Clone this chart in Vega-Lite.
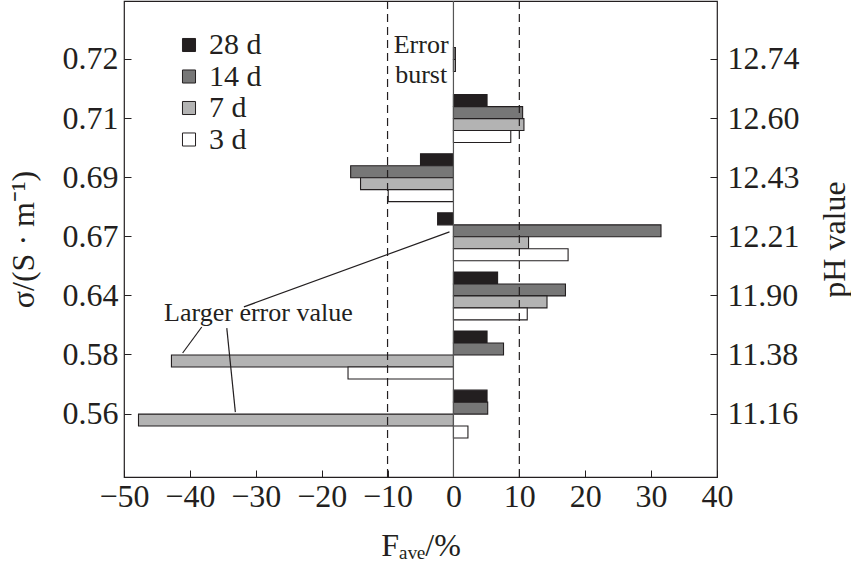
{
  "$schema": "https://vega.github.io/schema/vega-lite/v6.json",
  "autosize": {"type": "none"},
  "width": 593,
  "height": 476,
  "padding": {"left": 124, "top": 1, "right": 134, "bottom": 84},
  "background": "white",
  "config": {
    "view": {"stroke": "#231f20", "strokeWidth": 1.2},
    "font": "Liberation Serif",
    "axis": {
      "domain": false,
      "grid": false,
      "tickColor": "#231f20",
      "tickSize": -7,
      "labelOverlap": false,
      "labelFlush": false,
      "labelFont": "Liberation Serif",
      "labelFontSize": 32,
      "labelColor": "#231f20",
      "titleFont": "Liberation Serif",
      "titleFontSize": 32,
      "titleFontWeight": "normal",
      "titleColor": "#231f20"
    }
  },
  "datasets": {
    "bars": [
      {"sigma": "0.72", "ph": "12.74", "age": "14 d", "F": 0.3},
      {"sigma": "0.72", "ph": "12.74", "age": "7 d", "F": 0.3},
      {"sigma": "0.71", "ph": "12.60", "age": "28 d", "F": 5.1},
      {"sigma": "0.71", "ph": "12.60", "age": "14 d", "F": 10.5},
      {"sigma": "0.71", "ph": "12.60", "age": "7 d", "F": 10.7},
      {"sigma": "0.71", "ph": "12.60", "age": "3 d", "F": 8.7},
      {"sigma": "0.69", "ph": "12.43", "age": "28 d", "F": -5.0},
      {"sigma": "0.69", "ph": "12.43", "age": "14 d", "F": -15.6},
      {"sigma": "0.69", "ph": "12.43", "age": "7 d", "F": -14.1},
      {"sigma": "0.69", "ph": "12.43", "age": "3 d", "F": -9.9},
      {"sigma": "0.67", "ph": "12.21", "age": "28 d", "F": -2.4},
      {"sigma": "0.67", "ph": "12.21", "age": "14 d", "F": 31.5},
      {"sigma": "0.67", "ph": "12.21", "age": "7 d", "F": 11.4},
      {"sigma": "0.67", "ph": "12.21", "age": "3 d", "F": 17.4},
      {"sigma": "0.64", "ph": "11.90", "age": "28 d", "F": 6.7},
      {"sigma": "0.64", "ph": "11.90", "age": "14 d", "F": 17.0},
      {"sigma": "0.64", "ph": "11.90", "age": "7 d", "F": 14.2},
      {"sigma": "0.64", "ph": "11.90", "age": "3 d", "F": 11.2},
      {"sigma": "0.58", "ph": "11.38", "age": "28 d", "F": 5.1},
      {"sigma": "0.58", "ph": "11.38", "age": "14 d", "F": 7.6},
      {"sigma": "0.58", "ph": "11.38", "age": "7 d", "F": -42.8},
      {"sigma": "0.58", "ph": "11.38", "age": "3 d", "F": -16.0},
      {"sigma": "0.56", "ph": "11.16", "age": "28 d", "F": 5.1},
      {"sigma": "0.56", "ph": "11.16", "age": "14 d", "F": 5.2},
      {"sigma": "0.56", "ph": "11.16", "age": "7 d", "F": -47.8},
      {"sigma": "0.56", "ph": "11.16", "age": "3 d", "F": 2.2}
    ],
    "refs": [
      {"F": -10, "kind": "dash"},
      {"F": 10, "kind": "dash"},
      {"F": 0, "kind": "zero"}
    ],
    "pointers": [
      {"x": -31.8, "y": 4.19, "x2": -0.6, "y2": 2.92},
      {"x": -41.1, "y": 4.97, "x2": -38.2, "y2": 4.53},
      {"x": -33.1, "y": 5.97, "x2": -34.4, "y2": 4.55}
    ],
    "notes": [
      {"x": -29.6, "y": 4.29, "text": "Larger error value"},
      {"x": -4.9, "y": -0.24, "text": "Error"},
      {"x": -4.9, "y": 0.27, "text": "burst"}
    ]
  },
  "layer": [
    {
      "data": {"name": "bars"},
      "mark": {"type": "bar", "stroke": "#231f20", "strokeWidth": 1.1},
      "encoding": {
        "y": {
          "field": "sigma",
          "type": "nominal",
          "sort": "descending",
          "scale": {"paddingInner": 0.19, "paddingOuter": 0.622, "align": 0.47},
          "axis": {"orient": "left", "title": "σ/(S · m⁻¹)", "labelPadding": 13, "titlePadding": 22}
        },
        "yOffset": {
          "field": "age",
          "type": "nominal",
          "sort": ["28 d", "14 d", "7 d", "3 d"],
          "scale": {"paddingInner": 0, "paddingOuter": 0}
        },
        "x": {
          "field": "F",
          "type": "quantitative",
          "scale": {"domain": [-50, 40], "nice": false},
          "axis": {"values": [-50, -40, -30, -20, -10, 0, 10, 20, 30, 40], "title": "Fₐᵥₑ/%", "labelPadding": 11, "titlePadding": 18}
        },
        "color": {
          "field": "age",
          "type": "nominal",
          "scale": {"domain": ["28 d", "14 d", "7 d", "3 d"], "range": ["#231f20", "#777777", "#b3b3b3", "#ffffff"]},
          "legend": {
            "title": null,
            "orient": "none",
            "legendX": 50,
            "legendY": 29,
            "padding": 0,
            "rowPadding": 1.5,
            "symbolType": "square",
            "symbolSize": 170,
            "symbolStrokeColor": "#231f20",
            "symbolStrokeWidth": 1,
            "symbolOpacity": 1,
            "labelFont": "Liberation Serif",
            "labelFontSize": 30,
            "labelColor": "#231f20",
            "labelOffset": 5
          }
        }
      }
    },
    {
      "data": {"name": "bars"},
      "mark": {"type": "tick", "opacity": 0},
      "encoding": {
        "y": {
          "field": "ph",
          "type": "nominal",
          "sort": "descending",
          "scale": {"paddingInner": 0.19, "paddingOuter": 0.622, "align": 0.47},
          "axis": {"orient": "right", "title": "pH value", "titleAngle": 270, "titleBaseline": "top", "labelPadding": 17, "titlePadding": 20}
        },
        "x": {"field": "F", "type": "quantitative"}
      }
    },
    {
      "data": {"name": "refs"},
      "transform": [{"filter": "datum.kind == 'dash'"}],
      "mark": {"type": "rule", "color": "#231f20", "strokeWidth": 1.2, "strokeDash": [8, 5]},
      "encoding": {"x": {"field": "F", "type": "quantitative"}}
    },
    {
      "data": {"name": "refs"},
      "transform": [{"filter": "datum.kind == 'zero'"}],
      "mark": {"type": "rule", "color": "#555555", "strokeWidth": 1.2},
      "encoding": {"x": {"field": "F", "type": "quantitative"}}
    },
    {
      "data": {"name": "pointers"},
      "mark": {"type": "rule", "color": "#231f20", "strokeWidth": 1.2},
      "encoding": {
        "x": {"field": "x", "type": "quantitative"},
        "x2": {"field": "x2"},
        "y": {"field": "y", "type": "quantitative", "scale": {"domain": [-0.986, 7.068], "reverse": true, "nice": false, "zero": false}, "axis": null},
        "y2": {"field": "y2"}
      }
    },
    {
      "data": {"name": "notes"},
      "mark": {"type": "text", "font": "Liberation Serif", "fontSize": 26, "color": "#231f20", "align": "center", "baseline": "middle"},
      "encoding": {
        "x": {"field": "x", "type": "quantitative"},
        "y": {"field": "y", "type": "quantitative", "scale": {"domain": [-0.986, 7.068], "reverse": true, "nice": false, "zero": false}, "axis": null},
        "text": {"field": "text"}
      }
    }
  ],
  "resolve": {"scale": {"y": "independent"}, "axis": {"y": "independent"}}
}
